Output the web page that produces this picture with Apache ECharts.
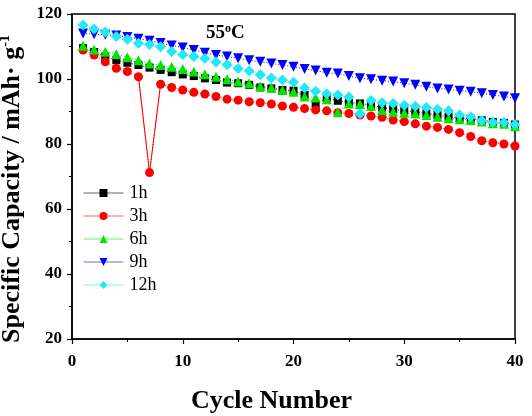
<!DOCTYPE html>
<html>
<head>
<meta charset="utf-8">
<script src="https://cdn.jsdelivr.net/npm/echarts@6/dist/echarts.min.js"></script>
<style>
    html, body { margin: 0; padding: 0; background: #fff; }
    #capacity-chart { width: 532px; height: 416px; }
</style>
</head>
<body>
<div id="capacity-chart"></div>
<script>
// 循环次数
const cycles = [1, 2, 3, 4, 5, 6, 7, 8, 9, 10, 11, 12, 13, 14, 15, 16, 17, 18, 19, 20,
    21, 22, 23, 24, 25, 26, 27, 28, 29, 30, 31, 32, 33, 34, 35, 36, 37, 38, 39, 40];

// 各时间的比容量 (mAh/g)
const cap1h = [109.5, 108.3, 106.9, 105.8, 105.0, 104.3, 103.5, 102.8, 102.1, 101.4,
    100.9, 100.2, 99.7, 98.9, 98.7, 98.2, 97.4, 97.1, 96.6, 96.4,
    95.1, 92.2, 94.2, 93.3, 92.8, 92.5, 92.0, 91.2, 90.7, 90.3,
    89.9, 89.4, 88.9, 88.4, 88.0, 87.8, 87.3, 86.8, 86.5, 86.0];
const cap3h = [108.9, 107.4, 105.3, 103.3, 102.3, 100.7, 71.2, 98.4, 97.4, 96.6,
    95.9, 95.4, 94.6, 93.8, 93.5, 93.0, 92.7, 92.3, 91.7, 91.3,
    90.9, 90.5, 90.2, 89.6, 89.4, 88.9, 88.6, 88.2, 87.4, 86.9,
    86.2, 85.5, 85.1, 84.5, 83.5, 82.3, 81.0, 80.4, 80.0, 79.4];
const cap6h = [110.2, 109.1, 108.4, 107.7, 106.7, 105.8, 104.8, 104.3, 103.8, 103.1,
    102.3, 101.5, 100.7, 99.9, 99.2, 98.7, 97.8, 97.4, 96.6, 96.1,
    94.6, 94.3, 93.8, 89.8, 92.5, 92.3, 91.7, 90.5, 89.9, 89.6,
    89.4, 88.9, 88.4, 87.9, 87.6, 87.4, 86.9, 86.4, 86.2, 85.5];
const cap9h = [114.0, 113.8, 113.6, 113.4, 112.9, 112.4, 111.8, 111.1, 110.3, 109.7,
    108.9, 108.1, 107.4, 106.9, 106.4, 105.8, 105.3, 104.8, 104.3, 103.8,
    103.1, 102.6, 101.9, 101.7, 100.9, 100.2, 99.9, 99.5, 99.2, 98.7,
    98.2, 97.6, 97.1, 96.8, 96.4, 96.1, 95.6, 95.1, 94.6, 94.1];
const cap12h = [116.6, 115.4, 114.5, 113.1, 112.2, 111.0, 110.6, 109.9, 108.5, 107.5,
    106.9, 106.3, 105.2, 104.4, 103.2, 102.5, 101.3, 100.3, 99.7, 99.0,
    97.2, 96.2, 95.5, 95.1, 94.5, 89.3, 93.4, 92.7, 92.5, 91.9,
    91.6, 91.2, 90.7, 90.2, 88.9, 88.4, 87.2, 86.7, 86.6, 86.0];

const xTicks = [0, 10, 20, 30, 40];
const yTicks = [20, 40, 60, 80, 100, 120];

const fontFamily = '"Liberation Serif", "Times New Roman", serif';

function pairs (values) {
    return cycles.map((c, i) => [c, values[i]]);
}

function makeSeries (name, values, color, symbol, size, rotate) {
    return {
        name: name,
        type: 'line',
        data: pairs(values),
        symbol: symbol,
        symbolSize: size,
        symbolRotate: rotate || 0,
        itemStyle: { color: color },
        lineStyle: { color: color, width: 1, type: [1, 2] },
        z: 3
    };
}

const chart = echarts.init(document.getElementById('capacity-chart'), null, { renderer: 'canvas' });

// 3h 第6-8次循环之间用实线连接
const dipSeg = cycles.map((c, i) => [c, (i >= 5 && i <= 7) ? cap3h[i] : null]);

chart.setOption({
    animation: false,
    backgroundColor: '#fff',
    title: {
        text: '{n|55}{s|o}{n|C}',
        left: 201,
        top: 18,
        textStyle: {
            rich: {
                n: { fontFamily: fontFamily, fontWeight: 'bold', fontSize: 19, color: '#000' },
                s: { fontFamily: fontFamily, fontWeight: 'bold', fontSize: 12, color: '#000', verticalAlign: 'top', padding: [0, 0, 9, 0] }
            }
        }
    },
    legend: {
        orient: 'vertical',
        left: 78,
        top: 179,
        itemWidth: 40,
        itemHeight: 10,
        itemGap: 5,
        data: ['1h', '3h', '6h', '9h', '12h'],
        lineStyle: { type: 'solid', width: 1, opacity: 0.6 },
        textStyle: { fontFamily: fontFamily, fontSize: 18, color: '#000', padding: [0, 0, 0, 1] }
    },
    grid: {
        left: 72,
        right: 17,
        top: 14,
        bottom: 77,
        show: true,
        borderColor: '#000',
        borderWidth: 1.5,
        containLabel: false,
        outerBoundsMode: 'none'
    },
    xAxis: {
        type: 'value',
        min: xTicks[0],
        max: xTicks[xTicks.length - 1],
        interval: 10,
        name: 'Cycle Number',
        nameLocation: 'middle',
        nameGap: 49,
        nameTextStyle: { fontFamily: fontFamily, fontWeight: 'bold', fontSize: 26, color: '#000', padding: [0, 44, 0, 0] },
        axisLine: { lineStyle: { color: '#000', width: 1.5 } },
        axisTick: { show: true, length: 5, lineStyle: { color: '#000', width: 1.2 } },
        minorTick: { show: true, splitNumber: 2, length: 3, lineStyle: { color: '#000', width: 1 } },
        splitLine: { show: false },
        axisLabel: { fontFamily: fontFamily, fontWeight: 'bold', fontSize: 17, color: '#000', margin: 14 }
    },
    yAxis: {
        type: 'value',
        min: yTicks[0],
        max: yTicks[yTicks.length - 1],
        interval: 20,
        name: '{t|Specific Capacity / mAh· g}{s|-1}',
        nameLocation: 'middle',
        nameRotate: 90,
        nameGap: 40,
        nameTextStyle: {
            padding: [0, 25, 0, 0],
            rich: {
                t: { fontFamily: fontFamily, fontWeight: 'bold', fontSize: 26, color: '#000' },
                s: { fontFamily: fontFamily, fontWeight: 'bold', fontSize: 14, color: '#000', verticalAlign: 'top', padding: [0, 0, 14, 0] }
            }
        },
        axisLine: { lineStyle: { color: '#000', width: 1.5 } },
        axisTick: { show: true, length: 5, lineStyle: { color: '#000', width: 1.2 } },
        minorTick: { show: true, splitNumber: 2, length: 3, lineStyle: { color: '#000', width: 1 } },
        splitLine: { show: false },
        axisLabel: { fontFamily: fontFamily, fontWeight: 'bold', fontSize: 17, color: '#000', margin: 10 }
    },
    series: [
        makeSeries('1h', cap1h, '#000000', 'rect', 8),
        makeSeries('3h', cap3h, '#ff0000', 'circle', 9),
        {
            name: '3h-dip',
            type: 'line',
            data: dipSeg,
            symbol: 'none',
            connectNulls: false,
            lineStyle: { color: '#ff0000', width: 1, type: 'solid' },
            z: 2
        },
        makeSeries('6h', cap6h, '#00e600', 'triangle', 10),
        makeSeries('9h', cap9h, '#0000ff', 'triangle', 10, 180),
        makeSeries('12h', cap12h, '#22e8f8', 'diamond', 11)
    ]
});
</script>
</body>
</html>
